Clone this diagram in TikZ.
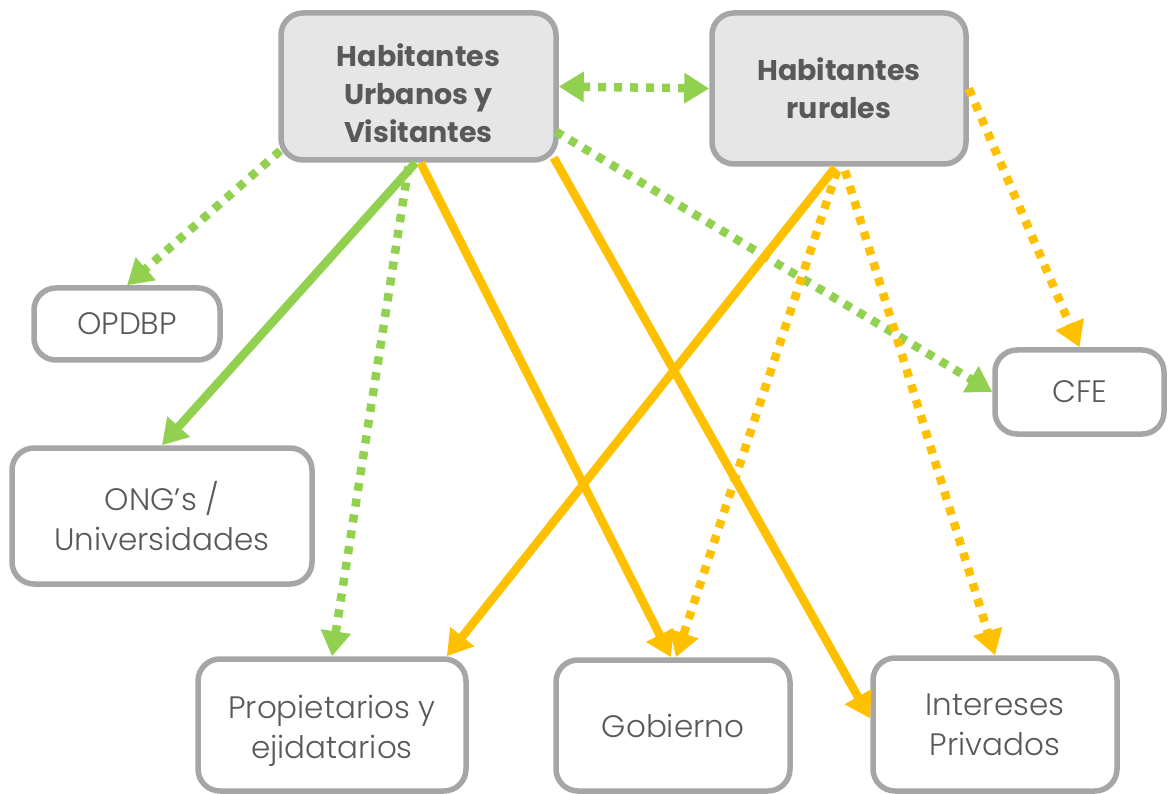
\documentclass[tikz,border=0pt]{standalone}
\usepackage{fontspec}
\IfFontExistsTF{Poppins Light}{\setmainfont{Poppins Light}[BoldFont=Poppins Bold]}{\setmainfont{Poppins}}
\usetikzlibrary{arrows.meta,calc}
\definecolor{tgray}{HTML}{595959}
\definecolor{bgray}{HTML}{A6A6A6}
\definecolor{lfill}{HTML}{E7E6E6}
\definecolor{gr}{HTML}{92D050}
\definecolor{yl}{HTML}{FFC000}
\begin{document}
\begin{tikzpicture}[x=1pt,y=-1pt,
  box/.style={draw=bgray, line width=5.5pt, rounded corners=22pt, fill=white, text=tgray, align=center, inner sep=0pt, font=\fontsize{31}{40}\selectfont},
  topbox/.style={box, fill=lfill, font=\fontsize{28.5}{38}\selectfont\bfseries},
  boxtext/.style={text=tgray, align=center, inner sep=0pt, font=\fontsize{31}{40}\selectfont},
  toptext/.style={boxtext, font=\fontsize{28.5}{38}\selectfont\bfseries},
  con/.style={line width=8.5pt, -{Triangle[length=25pt,width=29pt]}},
  dotline/.style={dash pattern=on 8pt off 8pt},
]
\useasboundingbox (0,0) rectangle (1168,794);
% boxes
\node[topbox, minimum width=275pt, minimum height=147pt] (hu) at (418.5,86.5) {};
\node[toptext] (hutext) at ($(hu)+(0,7)$) {Habitantes\\Urbanos y\\Visitantes};
\node[topbox, minimum width=254pt, minimum height=151pt] (hr) at (839,88.5) {Habitantes\\rurales};
\node[box, minimum width=186pt, minimum height=72pt] (opd) at (127,324) {OPDBP};
\node[box, minimum width=300pt, minimum height=136pt] (ong) at (162,516) {ONG’s /\\Universidades};
\node[box, minimum width=169pt, minimum height=84pt] (cfe) at (1079.5,392) {CFE};
\node[box, minimum width=268pt, minimum height=132pt] (prop) at (332,725) {};
\node[boxtext] (proptext) at ($(prop)+(0,6)$) {Propietarios y\\ejidatarios};
\node[box, minimum width=234pt, minimum height=131pt] (gob) at (673,725.5) {Gobierno};
\node[box, minimum width=244pt, minimum height=133pt] (int) at (995,724.5) {Intereses\\Privados};
% connectors
\draw[con, gr, dotline, {Triangle[length=25pt,width=29pt]}-{Triangle[length=25pt,width=29pt]}] (hu.east) -- (hr.west);
\draw[con, gr, dotline] ($(hu.south west)+(2,-12)$) -- (opd.north);
\draw[con, gr] ($(hu.south)+(-3,0)$) -- (ong.north);
\draw[con, gr, dotline] ($(hu.south)+(-10,4)$) -- (prop.north);
\draw[con, gr, dotline] ($(hu.east)+(-3,45)$) -- (cfe.west);
\draw[con, yl] ($(hu.south)+(2,0)$) -- ($(gob.north)+(-2,0)$);
\draw[con, yl] ($(hu.south east)+(-5,-5)$) -- ($(int.west)+(0,-6)$);
\draw[con, yl] ($(hr.south)+(-4,1)$) -- ($(prop.north east)+(-22,0)$);
\draw[con, yl, dotline] ($(hr.south)+(-2,4)$) -- ($(gob.north)+(3,0)$);
\draw[con, yl, dotline] ($(hr.south)+(6,4)$) -- (int.north);
\draw[con, yl, dotline] (hr.east) -- (cfe.north);
\end{tikzpicture}
\end{document}
